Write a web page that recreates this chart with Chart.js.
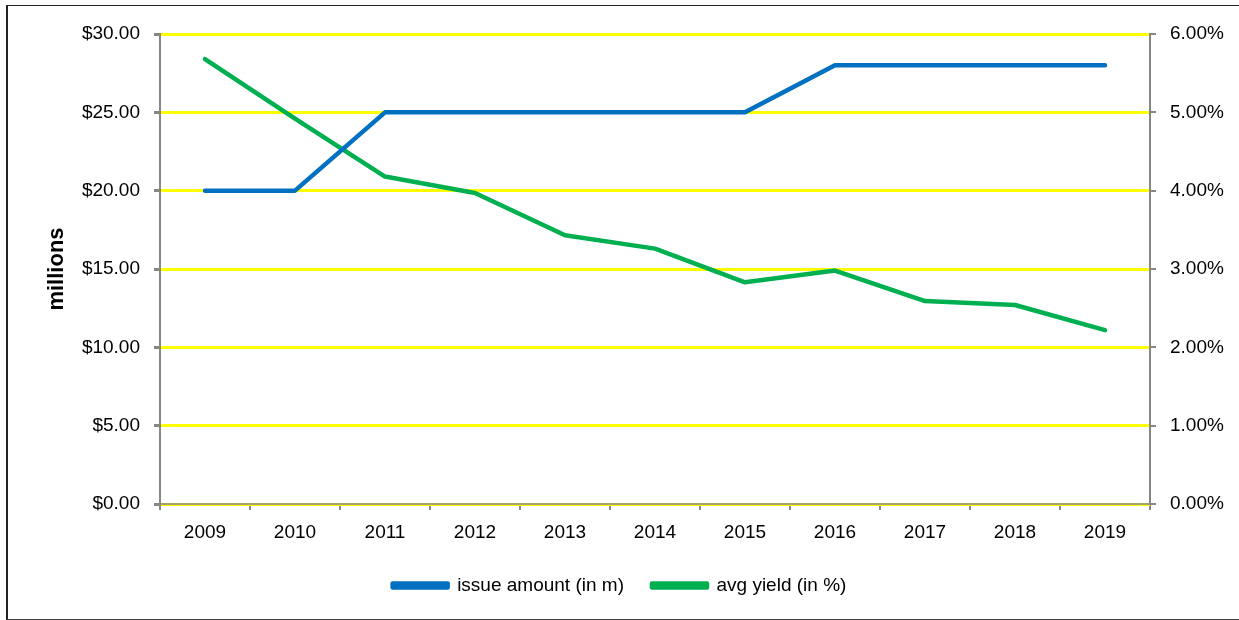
<!DOCTYPE html>
<html>
<head>
<meta charset="utf-8">
<script src="https://cdn.jsdelivr.net/npm/chart.js@4"></script>
<style>
  html, body { margin: 0; padding: 0; background: #fff; }
  #frame {
    position: absolute; left: 6px; top: 5px; width: 1233px; height: 613px;
    border-left: 2px solid #222; border-top: 1px solid #222; border-bottom: 1px solid #444;
  }
  #wrap { position: absolute; left: 0; top: 0; width: 1239px; height: 620px; }
</style>
</head>
<body>
<div id="frame"></div>
<div id="wrap"><canvas id="bondChart"></canvas></div>
<script>
const years = ['2009', '2010', '2011', '2012', '2013', '2014', '2015', '2016', '2017', '2018', '2019'];
const issueAmount = [20, 20, 25, 25, 25, 25, 25, 28, 28, 28, 28];
const avgYield = [5.68, 4.92, 4.18, 3.97, 3.43, 3.26, 2.83, 2.98, 2.59, 2.54, 2.22];
const seriesNames = ['issue amount (in m)', 'avg yield (in %)'];
const axisTitle = 'millions';

const fontFamily = '"Liberation Sans", Arial, sans-serif';
const axisGray = '#868686';

new Chart('bondChart', {
    type: 'line',
    data: {
        labels: years,
        datasets: [
            {
                label: seriesNames[0],
                data: issueAmount,
                yAxisID: 'y',
                borderColor: '#0070C0',
                backgroundColor: '#0070C0',
                borderWidth: 4.5,
                pointRadius: 0,
                tension: 0,
                borderCapStyle: 'round',
                borderJoinStyle: 'round'
            },
            {
                label: seriesNames[1],
                data: avgYield,
                yAxisID: 'y1',
                borderColor: '#00B050',
                backgroundColor: '#00B050',
                borderWidth: 4.5,
                pointRadius: 0,
                tension: 0,
                borderCapStyle: 'round',
                borderJoinStyle: 'round'
            }
        ]
    },
    options: {
        responsive: true,
        maintainAspectRatio: false,
        animation: false,
        layout: { padding: { top: 34, left: 0, right: 0, bottom: 15 } },
        plugins: {
            tooltip: { enabled: false },
            legend: {
                position: 'bottom',
                labels: {
                    boxWidth: 55,
                    boxHeight: 4,
                    padding: 28,
                    color: '#000',
                    font: { family: fontFamily, size: 19 }
                }
            }
        },
        scales: {
            x: {
                offset: true,
                grid: { offset: true, drawOnChartArea: false, drawTicks: true, tickLength: 6, tickColor: axisGray, lineWidth: 2 },
                border: { color: '#a3a36c', width: 2 },
                ticks: { color: '#000', padding: 11, font: { family: fontFamily, size: 19 } },
                afterFit: (s) => { s.height = 44; }
            },
            y: {
                position: 'left',
                min: 0, max: 30,
                ticks: {
                    stepSize: 5, color: '#000', padding: 14,
                    font: { family: fontFamily, size: 19 },
                    callback: (v) => '$' + Number(v).toFixed(2)
                },
                grid: { color: '#FFFF00', lineWidth: 3, tickColor: axisGray, tickLength: 6, drawTicks: true },
                border: { color: axisGray, width: 2 },
                title: {
                    display: true, text: axisTitle, color: '#000',
                    font: { family: fontFamily, size: 22, weight: 'bold' },
                    padding: { top: 44, bottom: 0 }
                },
                afterFit: (s) => { s.width = 160; }
            },
            y1: {
                position: 'right',
                min: 0, max: 6,
                ticks: {
                    stepSize: 1, color: '#000', padding: 14,
                    font: { family: fontFamily, size: 19 },
                    callback: (v) => Number(v).toFixed(2) + '%'
                },
                grid: { drawOnChartArea: false, drawTicks: true, tickColor: axisGray, tickLength: 6, lineWidth: 2 },
                border: { color: axisGray, width: 2 },
                afterFit: (s) => { s.width = 89; }
            }
        }
    }
});
</script>
</body>
</html>
